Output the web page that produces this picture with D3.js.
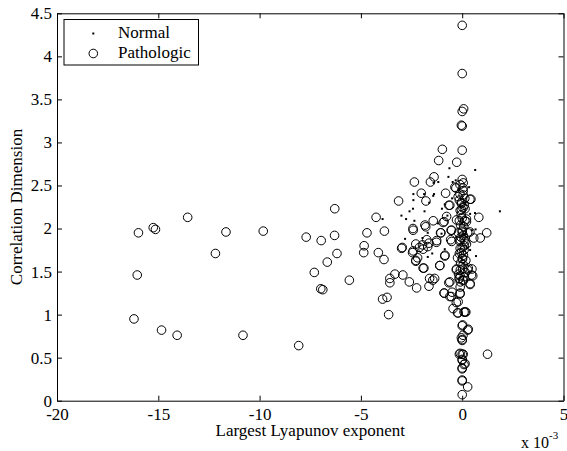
<!DOCTYPE html>
<html>
<head>
<meta charset="utf-8">
<script src="https://cdn.jsdelivr.net/npm/d3@7"></script>
<style>
  body { margin: 0; background: #fff; }
  svg { font-family: "Liberation Serif", "Times New Roman", serif; }
  .axis path, .axis line { stroke: #000; stroke-width: 1; }
  .axis text { font-size: 17px; fill: #000; font-family: "Liberation Serif", serif; }
</style>
</head>
<body>
<div id="app"></div>
<script>
// values in units of 1e-3 for x
var normal = [
  [1.86,2.20],[0.64,2.68],[0.68,1.68],[-0.63,2.70],[-0.68,2.60],[-1.18,2.54],[-1.41,2.53],
  [-1.39,2.40],[-1.88,2.40],[-2.41,2.40],[-2.41,2.33],[-2.43,2.23],[-1.86,2.20],[-2.77,2.11],
  [-2.36,2.09],[-3.93,2.11],[-2.82,1.88],[-1.96,1.89],[-1.70,1.95],[-1.20,2.06],[-0.73,2.15],
  [-1.00,2.23],[-0.86,2.28],[-0.32,2.56],[0.34,2.48],[0.39,2.17],[0.48,1.98],[0.66,1.99],
  [0.39,1.75],[0.27,1.78],[0.14,1.94],[-0.86,1.76],[-1.48,1.71],[-1.70,1.67],[-1.43,2.38],
  [-1.63,2.30],[-1.02,1.94],[-0.47,2.54],[0.63,2.18],[-0.20,2.45],[0.10,2.30],[-0.10,2.05],
  [0.20,2.00],[-0.30,1.90],[0.05,1.60],[-0.50,2.35],[-2.60,2.20],[-3.00,2.15]
];

var pathologic = [
  [-15.98,1.95],[-16.04,1.46],[-16.2,0.95],[-15.25,2.01],[-15.14,1.99],[-14.84,0.82],[-14.07,0.76],
  [-13.55,2.13],[-12.18,1.71],[-11.66,1.96],[-10.82,0.76],[-9.82,1.97],[-8.07,0.64],[-7.70,1.90],
  [-7.30,1.49],[-6.96,1.86],[-6.98,1.30],[-6.88,1.29],[-6.66,1.61],[-6.30,1.92],[-6.29,2.23],
  [-6.18,1.71],[-5.57,1.40],[-4.84,1.80],[-4.86,1.72],[-4.70,1.95],[-4.25,2.13],[-4.14,1.72],
  [-3.86,1.64],[-3.84,1.97],[-3.93,1.18],[-3.71,1.20],[-3.63,1.00],[-3.57,1.42],[-3.57,1.37],
  [-3.32,1.47],[-3.14,2.32],[-2.96,1.78],[-2.93,1.46],[-2.61,1.38],[-2.45,1.72],[-2.43,2.00],
  [-2.36,2.54],[-2.29,1.62],[-2.25,1.31],[-2.29,1.82],[-2.20,1.66],[-2.11,1.78],[-2.02,2.41],
  [-1.93,1.76],[-1.89,1.54],[-1.79,2.32],[-1.80,2.02],[-1.75,1.87],[-1.70,1.79],[-1.64,1.33],
  [-1.61,1.42],[-1.57,2.54],[-1.45,1.40],[-1.43,2.09],[-1.39,2.60],[-1.36,1.42],[-1.27,1.84],
  [-1.16,2.79],[-1.11,1.57],[-1.07,1.95],[-0.98,2.92],[-0.89,2.08],[-0.88,1.25],[-0.82,2.41],
  [-0.86,1.68],[-0.66,2.27],[-0.66,1.37],[-0.61,1.21],[-0.55,1.98],[-0.52,1.85],[-0.50,1.26],
  [-0.45,1.07],[-0.36,2.48],[-0.27,2.77],[-0.29,1.14],[-0.23,1.02],[-0.11,1.24],[-0.14,0.54],
  [-0.09,1.52],
  [0,4.36],[0,3.80],[0.07,3.39],[0,3.36],[-0.04,3.20],[0,3.19],[0,2.91],[0,2.57],[0.04,2.47],
  [-0.11,2.40],[0.13,2.35],[0.43,2.34],[-0.14,2.33],[0.04,2.24],[-0.04,2.22],[-0.14,2.09],
  [0.13,2.09],[0.21,2.11],[0,1.98],[-0.18,1.95],[0.27,1.95],[0.82,2.13],[1.21,1.95],[0.89,1.89],
  [0.57,1.89],[0.09,1.87],[-0.11,1.85],[0.21,1.82],[0,1.78],[0.09,1.75],[-0.14,1.71],[-0.23,1.66],
  [0.02,1.65],[0.18,1.63],[-0.29,1.52],[0.48,1.53],[0.27,1.52],[-0.18,1.47],[0.52,1.45],
  [-0.14,1.42],[0.07,1.40],[0.39,1.35],[-0.09,1.38],[0.09,1.03],[0.18,1.03],[0,0.87],[0.27,0.82],
  [0.04,0.76],[0,0.71],[-0.04,0.73],[0,0.54],[0,0.48],[0.09,0.42],[0,0.37],[0,0.23],
  [0.27,0.16],[0,0.07],[1.25,0.54],
  [-0.31,2.47],[-0.11,2.51],[0.05,2.53],[-0.20,2.37],[0.05,2.39],[-0.03,2.29],[0.38,2.34],
  [-0.61,2.27],[-0.10,2.21],[0.14,2.23],[-0.77,2.14],[-0.28,2.10],[0,2.12],[0.21,2.08],
  [-1.84,2.04],[-0.94,2.07],[-2.42,1.98],[-1.05,1.95],[-0.52,1.98],[0,1.96],[0.38,1.96],
  [-0.57,1.87],[-0.10,1.87],[0.14,1.85],[-1.26,1.86],[-1.64,1.83],[-1.96,1.81],[-2.99,1.77],
  [-2.42,1.74],[-0.85,1.69],[-0.10,1.77],[0,1.65],[-2.29,1.63],[-1.10,1.57],[-1.93,1.54],
  [-0.28,1.53],[0.02,1.53],[0.30,1.54],[0.46,1.46],[-0.61,1.38],[-0.15,1.42],[0.02,1.40],
  [0.39,1.36],[-0.10,1.32],[-0.90,1.25],[-0.54,1.21],[-0.10,1.25],[-0.20,1.15],[-0.20,1.02],
  [0.14,1.03],[0.02,0.88],[0.30,0.83],[0,0.70],[-0.10,0.55],[0.05,0.54],[0,0.47],[0.14,0.43],
  [0,0.38],[0,0.24],
  [0.05,2.44],[-0.05,2.30],[0.10,2.27],[-0.05,2.16],[0.08,2.02],[-0.08,2.04],[0.05,1.92],
  [-0.06,1.90],[0.10,1.80],[-0.05,1.72],[0.06,1.69],[-0.08,1.60],[0.05,1.58],[-0.10,1.45],
  [0.10,1.44],[0.15,1.49]
];

var xTicks = [-20,-15,-10,-5,0,5];
var yTicks = [0,0.5,1,1.5,2,2.5,3,3.5,4,4.5];
var legendLabels = ['Normal','Pathologic'];

var W = 567, H = 451;
var mLeft = 57, mRight = 563.5, mTop = 13.3, mBottom = 400.7;

var svg = d3.select('#app')
  .append('svg')
    .attr('width',W)
    .attr('height',H);

svg.append('rect').attr('width',W).attr('height',H).attr('fill','#fff');

var x = d3.scaleLinear().domain([-20,5]).range([mLeft,mRight]);
var y = d3.scaleLinear().domain([0,4.5]).range([mBottom,mTop]);

// plain hyphen like matlab, not the unicode minus
var fmt = function(d){return String(d);};

// points
svg.append('g')
  .selectAll('circle')
  .data(pathologic)
  .enter().append('circle')
    .attr('cx',function(d){return x(d[0]);})
    .attr('cy',function(d){return y(d[1]);})
    .attr('r',4.3)
    .attr('fill','none')
    .attr('stroke','#000')
    .attr('stroke-width',1);

svg.append('g')
  .selectAll('rect')
  .data(normal)
  .enter().append('rect')
    .attr('x',function(d){return x(d[0])-1;})
    .attr('y',function(d){return y(d[1])-1;})
    .attr('width',2)
    .attr('height',2)
    .attr('fill','#000');

// axes, ticks inward on all four sides
svg.append('g')
    .attr('class','axis')
    .attr('transform','translate(0,'+mBottom+')')
    .call(d3.axisBottom(x).tickValues(xTicks).tickSize(-5).tickSizeOuter(0).tickPadding(7).tickFormat(fmt));

svg.append('g')
    .attr('class','axis')
    .attr('transform','translate('+mLeft+',0)')
    .call(d3.axisLeft(y).tickValues(yTicks).tickSize(-5).tickSizeOuter(0).tickPadding(5).tickFormat(fmt));

svg.append('g')
    .attr('class','axis')
    .attr('transform','translate(0,'+mTop+')')
    .call(d3.axisTop(x).tickValues(xTicks).tickSize(-5).tickSizeOuter(0).tickFormat(''));

svg.append('g')
    .attr('class','axis')
    .attr('transform','translate('+mRight+',0)')
    .call(d3.axisRight(y).tickValues(yTicks).tickSize(-5).tickSizeOuter(0).tickFormat(''));

// axis titles
svg.append('text')
    .text('Largest Lyapunov exponent')
    .attr('x',(mLeft+mRight)/2)
    .attr('y',436)
    .attr('text-anchor','middle')
    .style('font-size','17px');

svg.append('text')
    .text('Correlation Dimension')
    .attr('transform','translate(22,'+((mTop+mBottom)/2)+') rotate(-90)')
    .attr('text-anchor','middle')
    .style('font-size','17px');

var expo = svg.append('text')
    .attr('x',521)
    .attr('y',448)
    .style('font-size','16px');
expo.append('tspan').text('x 10');
expo.append('tspan').text('-3').attr('dy',-9).style('font-size','11px');

// legend
var lg = svg.append('g').attr('transform','translate(64,19.5)');
lg.append('rect')
    .attr('width',134.5)
    .attr('height',45.5)
    .attr('fill','#fff')
    .attr('stroke','#000')
    .attr('stroke-width',1);

lg.append('rect').attr('x',28.3).attr('y',13).attr('width',2).attr('height',2).attr('fill','#000');
lg.append('circle').attr('cx',29.3).attr('cy',34).attr('r',4.3)
    .attr('fill','none').attr('stroke','#000');

lg.selectAll('text.lbl')
  .data(legendLabels)
  .enter().append('text')
    .attr('class','lbl')
    .text(function(d){return d;})
    .attr('x',54)
    .attr('y',function(d,i){return 18+i*20;})
    .style('font-size','17px');
</script>
</body>
</html>
